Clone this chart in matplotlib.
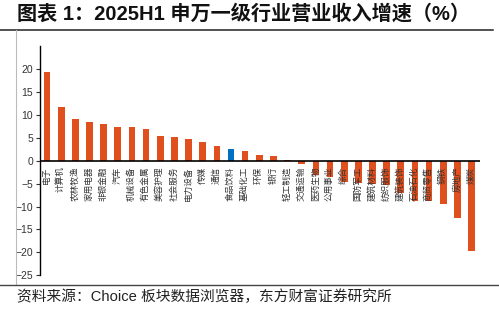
import matplotlib.pyplot as plt
import numpy as np
from matplotlib.lines import Line2D

plt.rcParams['font.family'] = ['Liberation Sans', 'Noto Sans CJK SC', 'DejaVu Sans']

industries = ['电子', '计算机', '农林牧渔', '家用电器', '非银金融', '汽车', '机械设备',
              '有色金属', '美容护理', '社会服务', '电力设备', '传媒', '通信', '食品饮料',
              '基础化工', '环保', '银行', '轻工制造', '交通运输', '医药生物', '公用事业',
              '综合', '国防军工', '建筑材料', '纺织服饰', '建筑装饰', '石油石化',
              '商贸零售', '钢铁', '房地产', '煤炭']
growth = [19.4, 11.6, 9.0, 8.4, 7.9, 7.3, 7.3, 6.8, 5.4, 5.2, 4.8, 4.1, 3.1, 2.5,
          2.2, 1.2, 1.0, 0.2, -0.8, -3.1, -3.5, -4.7, -4.8, -5.0, -5.4, -7.1, -8.7,
          -8.9, -9.5, -12.4, -19.8]
highlight = '食品饮料'
yticks = [-25, -20, -15, -10, -5, 0, 5, 10, 15, 20]

fig = plt.figure(figsize=(4.99, 3.09), dpi=100)
ax = fig.add_axes([40 / 499, 1 - 275.3 / 309, 440 / 499, (275.3 - 46) / 309])

x = np.arange(len(industries))
colors = ['#0070C0' if n == highlight else '#E0501F' for n in industries]
ax.bar(x, growth, width=0.47, color=colors, zorder=2)
ax.axhline(0, color='black', lw=1.2, zorder=3)

ax.set_xlim(-0.5, 30.6)
ax.set_ylim(-25, 25)
ax.set_yticks(yticks)
ax.set_xticks([])
ax.tick_params(axis='y', labelsize=7.5, length=3, width=0.8, colors='#333333', pad=2)
for s in ['top', 'right', 'bottom']:
    ax.spines[s].set_visible(False)
ax.spines['left'].set_linewidth(1.0)

# category labels read bottom-to-top, hung from just under the zero line
for xi, name in zip(x, industries):
    ax.text(xi - 0.05, -1.3, name, rotation=90, ha='center', va='top',
            fontsize=6.2, color='#333333', family=['Noto Sans CJK SC'], zorder=4)

# frame decorations
fig.text(17 / 499, 1 - 13.5 / 309, '图表 1：2025H1 申万一级行业营业收入增速（%）',
         fontsize=14.5, fontweight='bold', va='center', ha='left', color='#111111')
fig.add_artist(Line2D([0, 493 / 499], [1 - 29.5 / 309] * 2, color='#222222', lw=1.1))
fig.add_artist(Line2D([15.5 / 499] * 2, [1 - 30 / 309, 1 - 285 / 309], color='#BBBBBB', lw=0.8))
fig.add_artist(Line2D([0, 1], [1 - 285 / 309] * 2, color='#444444', lw=1.0))
fig.text(17 / 499, 1 - 297 / 309, '资料来源：Choice 板块数据浏览器，东方财富证券研究所',
         fontsize=10.6, va='center', ha='left', color='#222222')

fig.savefig('out.png', dpi=100)
